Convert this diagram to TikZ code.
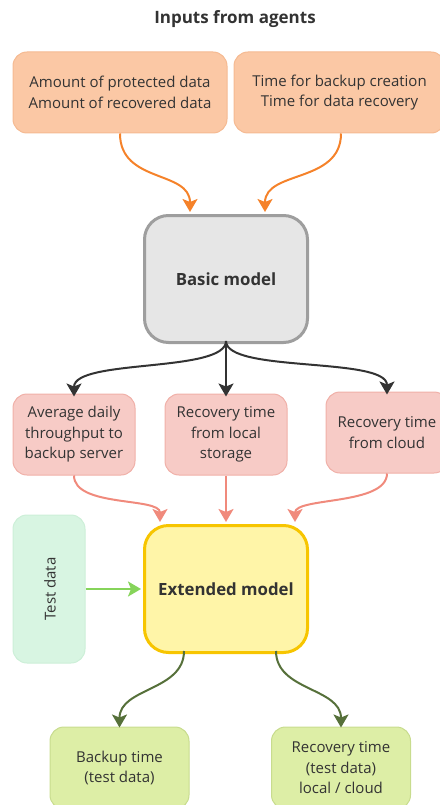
\documentclass[tikz,border=0pt]{standalone}
\usepackage{fontspec}
\setmainfont{Open Sans}
\usetikzlibrary{arrows.meta,calc}
\definecolor{txt}{HTML}{333333}
\definecolor{orfill}{HTML}{FBC8A5}
\definecolor{ordraw}{HTML}{F5BA92}
\definecolor{orarrow}{HTML}{F5822A}
\definecolor{grfill}{HTML}{E6E6E6}
\definecolor{grdraw}{HTML}{9E9E9E}
\definecolor{blarrow}{HTML}{333333}
\definecolor{pkfill}{HTML}{F7CBC6}
\definecolor{pkdraw}{HTML}{F0B0A8}
\definecolor{pkarrow}{HTML}{F08A7C}
\definecolor{mtfill}{HTML}{D8F5E2}
\definecolor{mtdraw}{HTML}{CDEFD8}
\definecolor{lgarrow}{HTML}{86D45A}
\definecolor{ylfill}{HTML}{FFF5A8}
\definecolor{yldraw}{HTML}{F7C500}
\definecolor{dgarrow}{HTML}{56703A}
\definecolor{gnfill}{HTML}{DDEEA6}
\definecolor{gndraw}{HTML}{C8DC8E}
\tikzset{
  box/.style={rounded corners=14pt, inner sep=0pt, align=center, text=txt,
    font=\fontsize{15}{20.5}\selectfont, line width=1pt},
  orbox/.style={box, fill=orfill, draw=ordraw, minimum width=214pt, minimum height=81pt},
  pkbox/.style={box, fill=pkfill, draw=pkdraw, minimum width=122pt, minimum height=81pt},
  gnbox/.style={box, fill=gnfill, draw=gndraw, minimum width=139pt, minimum height=82pt},
  model/.style={box, rounded corners=24pt, minimum width=163pt, minimum height=127pt,
    line width=3pt, font=\fontsize{16.8}{20}\selectfont\bfseries},
  arr/.style={line width=2pt, -{Stealth[length=13pt,width=15pt,inset=3pt]}},
}
\begin{document}
\begin{tikzpicture}[x=1pt,y=-1pt]
\useasboundingbox (0,0) rectangle (439,805);
\node[text=txt, font=\fontsize{17}{20}\selectfont\bfseries] (title) at (235,19) {Inputs from agents};

\node[orbox] (o1) at (120,92.5) {Amount of protected data\\Amount of recovered data};
\node[orbox, minimum width=211pt] (o2) at (339.5,92.5) {Time for backup creation\\Time for data recovery};

\node[model, fill=grfill, draw=grdraw] (basic) at (226,279) {Basic model};

\node[pkbox] (p1) at (74,434.5) {Average daily\\throughput to\\backup server};
\node[pkbox] (p2) at (226,434.5) {Recovery time\\from local\\storage};
\node[pkbox] (p3) at (387,432.5) {Recovery time\\from cloud};

\node[box, fill=mtfill, draw=mtdraw, minimum width=72pt, minimum height=148pt] (test) at (49,589) {};
\node[text=txt, font=\fontsize{15}{20.5}\selectfont, rotate=90] (testlbl) at (50,589) {Test data};

\node[model, fill=ylfill, draw=yldraw] (ext) at (226,589) {Extended model};

\node[gnbox] (g1) at (119.5,768) {Backup time\\(test data)};
\node[gnbox] (g2) at (341,768) {Recovery time\\(test data)\\local / cloud};

% orange arrows
\draw[arr, orarrow] ([xshift=0pt]o1.south) .. controls +(0,50) and +(0,-42) .. ([xshift=-36pt,yshift=2pt]basic.north);
\draw[arr, orarrow] ([xshift=1.5pt]o2.south) .. controls +(0,50) and +(0,-42) .. ([xshift=39pt,yshift=2pt]basic.north);

% black arrows
\coordinate (bs) at ([yshift=3pt]basic.south);
\draw[arr, blarrow] (bs) .. controls +(0,32) and +(0,-38) .. ([yshift=-3pt]p1.north);
\draw[arr, blarrow] (bs) -- ([yshift=-3pt]p2.north);
\draw[arr, blarrow] (bs) .. controls +(0,32) and +(0,-38) .. ([yshift=-3pt]p3.north);

% pink arrows
\draw[arr, pkarrow] (p1.south) .. controls +(0,32) and +(0,-25) .. ([xshift=-66pt,yshift=2pt]ext.north);
\draw[arr, pkarrow] (p2.south) -- ([yshift=2pt]ext.north);
\draw[arr, pkarrow] (p3.south) .. controls +(0,32) and +(0,-25) .. ([xshift=69pt,yshift=2pt]ext.north);

% green arrow
\draw[arr, lgarrow] (test.east) -- ([xshift=-2pt]ext.west);

% dark green arrows
\draw[arr, dgarrow] ([xshift=-42pt,yshift=3pt]ext.south) .. controls +(0,40) and +(0,-40) .. ([yshift=-1pt]g1.north);
\draw[arr, dgarrow] ([xshift=50pt,yshift=3pt]ext.south) .. controls +(0,40) and +(0,-40) .. ([yshift=-1pt]g2.north);
\end{tikzpicture}
\end{document}
